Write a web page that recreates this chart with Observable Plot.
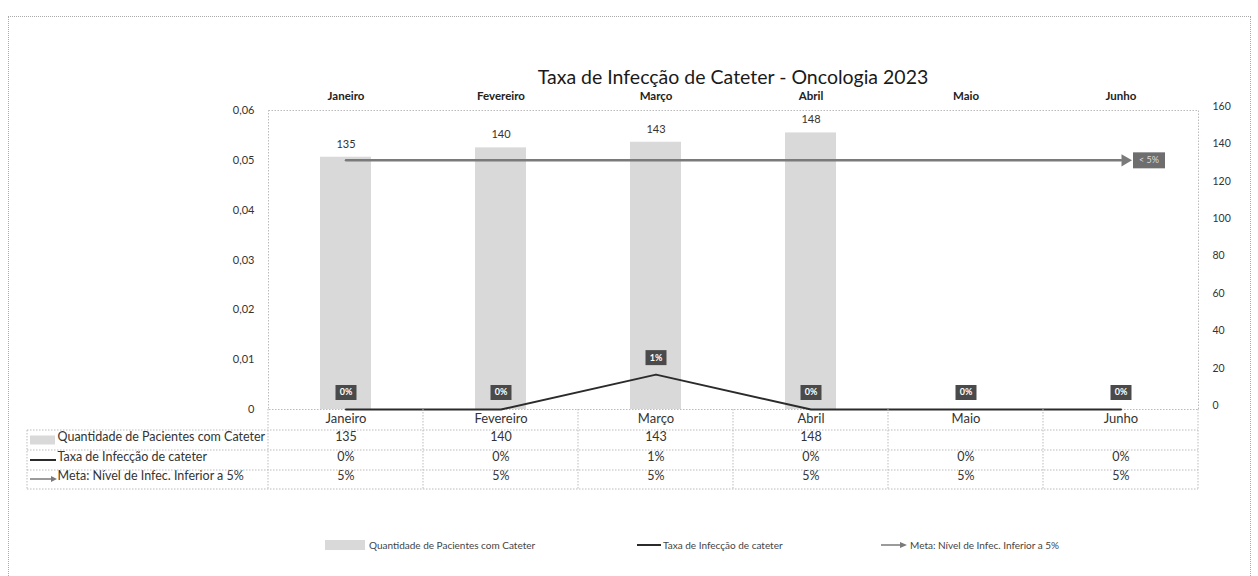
<!DOCTYPE html>
<html><head><meta charset="utf-8">
<script src="https://cdn.jsdelivr.net/npm/d3@7"></script>
<script src="https://cdn.jsdelivr.net/npm/@observablehq/plot@0.6"></script>
<style>
body{margin:0;background:#fff;font-family:Lato,"Liberation Sans",sans-serif;}
#wrap{position:relative;width:1258px;height:576px;overflow:hidden;background:#fff}
#border{position:absolute;left:8px;top:16px;width:1243px;height:620px;border:1px dotted #aaa;box-sizing:border-box}
#chart{position:absolute;left:0;top:0}
#title{position:absolute;left:268px;width:930px;top:65px;text-align:center;font-size:19.5px;line-height:24px;color:#1a1a1a}
#legend{position:absolute;top:535px;left:0;width:1258px;height:20px;font-size:10px;color:#444}
.item{position:absolute;top:0;height:20px;display:flex;align-items:center;white-space:nowrap}
.item svg{margin-right:2px}
</style></head>
<body><div id="wrap"><div id="border"></div><div id="chart"></div><div id="title"></div><div id="legend"></div></div>
<script>
// ---- data ----
const title = "Taxa de Infecção de Cateter - Oncologia 2023";
const months = ["Janeiro","Fevereiro","Março","Abril","Maio","Junho"];
const patients = [135,140,143,148,null,null];
const infectionRate = [0,0,0.007,0,0,0];
const goalRate = [0.05,0.05,0.05,0.05,0.05,0.05];
const leftTicks = [0,0.01,0.02,0.03,0.04,0.05,0.06];
const rightTicks = [0,20,40,60,80,100,120,140,160];
const seriesNames = ["Quantidade de Pacientes com Cateter","Taxa de Infecção de cateter","Meta: Nível de Infec. Inferior a 5%"];
const goalLabel = "< 5%";

// ---- helpers ----
const k = 0.06 / 160; // right axis (count) -> left axis (rate)
const pt = d3.formatLocale({decimal:",",thousands:".",grouping:[3],currency:["R$",""]});
const fmtLeft = d => d === 0 ? "0" : pt.format(".2f")(d);
const fmtPct = d3.format(".0%");
const rows = months.map((m,i) => ({month:m, patients:patients[i], rate:infectionRate[i], goal:goalRate[i]}));
const barRows = rows.filter(r => r.patients != null);
const boxSym = (w,h) => ({draw(ctx){ ctx.rect(-w/2,-h/2,w,h); }});

const rowDy = [31, 51, 70];
const rowLines = [21, 41, 61, 80];
const rowTexts = [
  rows.map(r => r.patients == null ? "" : String(r.patients)),
  rows.map(r => fmtPct(r.rate)),
  rows.map(r => fmtPct(r.goal))
];

const marks = [
  Plot.frame({stroke:"#bbb", strokeDasharray:"1.5,1.5"}),
  Plot.barY(barRows, {x:"month", y: r => r.patients * k, fill:"#d9d9d9", insetLeft:52, insetRight:52}),
  Plot.text(barRows, {x:"month", y: r => r.patients * k, text: r => String(r.patients), dy:-13, fontSize:11, fill:"#333"}),
  Plot.line(rows, {x:"month", y:"goal", stroke:"#7a7a7a", strokeWidth:2.5}),
  Plot.dot(rows.slice(-1), {x:"month", y:"goal", symbol:"triangle", r:4.5, rotate:90, fill:"#7a7a7a", dx:4}),
  Plot.dot(rows.slice(-1), {x:"month", y:"goal", symbol: boxSym(32,16), fill:"#6e6e6e", dx:28}),
  Plot.text(rows.slice(-1), {x:"month", y:"goal", text: () => goalLabel, dx:28, fill:"#ddd", fontSize:9}),
  Plot.line(rows, {x:"month", y:"rate", stroke:"#2b2b2b", strokeWidth:2}),
  Plot.dot(rows, {x:"month", y:"rate", symbol: boxSym(21,15), fill:"#4a4a4a", dy:-17}),
  Plot.text(rows, {x:"month", y:"rate", text: r => fmtPct(r.rate), dy:-17, fill:"#fff", fontWeight:"bold", fontSize:9}),
  Plot.axisY(leftTicks, {anchor:"left", tickSize:0, tickPadding:14, tickFormat: fmtLeft, fontSize:11, fill:"#333", label:null}),
  Plot.axisY(rightTicks.map(v => v * k), {anchor:"right", tickSize:0, tickPadding:14, tickFormat: d => String(Math.round(d / k)), fontSize:10.5, fill:"#333", dy:-4, textAnchor:"start", label:null}),
  Plot.axisX({anchor:"top", tickSize:0, tickPadding:11, fontWeight:"bold", fontSize:11.5, fill:"#222", label:null}),
  Plot.axisX({anchor:"bottom", tickSize:0, tickPadding:4, fontSize:13, fill:"#333", label:null})
];
rowTexts.forEach((texts, j) => {
  marks.push(Plot.text(months.map((m,i) => ({month:m, t:texts[i]})), {x:"month", text:"t", frameAnchor:"bottom", dy:rowDy[j], fontSize:12.5, fill:"#333"}));
  marks.push(Plot.text([seriesNames[j]], {frameAnchor:"bottom-left", dx:-211, dy:rowDy[j], textAnchor:"start", fontSize:12.5, fill:"#333"}));
});

const chart = Plot.plot({
  width:1258, height:500,
  marginLeft:268, marginRight:60, marginTop:110, marginBottom:91,
  style:{fontFamily:"Lato, 'Liberation Sans', sans-serif", background:"transparent"},
  x:{domain:months, padding:0, axis:null},
  y:{domain:[0,0.06], axis:null},
  marks
});
document.getElementById("chart").appendChild(chart);
document.getElementById("title").textContent = title;

// table grid lines (positions from the plot's scales)
const xs = chart.scale("x"), ys = chart.scale("y");
const y0 = ys.apply(0);
const right = xs.apply(months[months.length-1]) + xs.bandwidth;
const svg = d3.select(chart);
const g = svg.append("g").attr("stroke","#bbb").attr("stroke-dasharray","1.5,1.5").attr("fill","none");
rowLines.forEach(o => g.append("line").attr("x1",27).attr("x2",right).attr("y1",y0+o).attr("y2",y0+o));
g.append("line").attr("x1",27).attr("x2",27).attr("y1",y0+rowLines[0]).attr("y2",y0+rowLines[3]);
months.forEach(m => { const x = xs.apply(m); g.append("line").attr("x1",x).attr("x2",x).attr("y1",y0).attr("y2",y0+rowLines[3]); });
g.append("line").attr("x1",right).attr("x2",right).attr("y1",y0).attr("y2",y0+rowLines[3]);
// row keys
const kg = svg.append("g");
kg.append("rect").attr("x",30).attr("y",y0+rowDy[0]-4.5).attr("width",25).attr("height",9).attr("fill","#d9d9d9");
kg.append("line").attr("x1",30).attr("x2",56).attr("y1",y0+rowDy[1]).attr("y2",y0+rowDy[1]).attr("stroke","#2b2b2b").attr("stroke-width",2);
kg.append("line").attr("x1",30).attr("x2",51).attr("y1",y0+rowDy[2]).attr("y2",y0+rowDy[2]).attr("stroke","#7a7a7a").attr("stroke-width",1.5);
kg.append("path").attr("d",`M51,${y0+rowDy[2]-3}L57,${y0+rowDy[2]}L51,${y0+rowDy[2]+3}Z`).attr("fill","#7a7a7a");

// legend
const legend = document.getElementById("legend");
const swatches = [
  `<svg width="42" height="10"><rect x="0" y="0" width="40" height="10" fill="#d9d9d9"/></svg>`,
  `<svg width="24" height="10"><line x1="0" x2="24" y1="5" y2="5" stroke="#2b2b2b" stroke-width="2"/></svg>`,
  `<svg width="27" height="10"><line x1="0" x2="20" y1="5" y2="5" stroke="#7a7a7a" stroke-width="1.5"/><path d="M19,2L26,5L19,8Z" fill="#7a7a7a"/></svg>`
];
const lx = [325, 637, 881];
seriesNames.forEach((n,i) => {
  const d = document.createElement("div");
  d.className = "item"; d.style.left = lx[i] + "px";
  d.innerHTML = swatches[i] + `<span>${n}</span>`;
  legend.appendChild(d);
});
</script>
</body></html>
